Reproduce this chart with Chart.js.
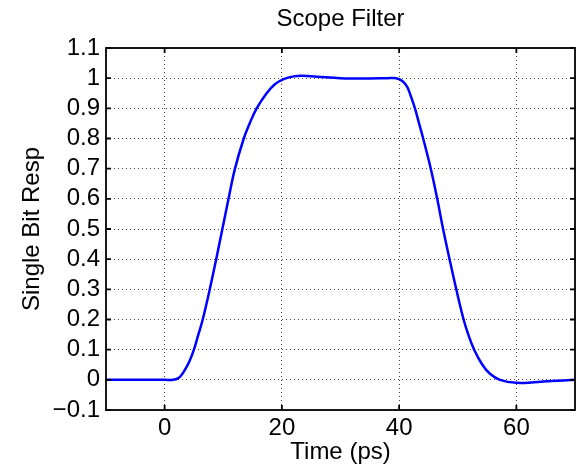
<!DOCTYPE html>
<html>
<head>
  <script src="https://cdn.jsdelivr.net/npm/chart.js@4.4.1/dist/chart.umd.min.js"></script>
  <style>
    html, body { margin: 0; padding: 0; background: #fff; }
    .wrap { width: 585px; height: 467px; }
  </style>
</head>
<body>
  <div class="wrap"><canvas id="scope"></canvas></div>
  <script>
    // values
    const timePs = [-10, 0, 1.5, 2.5, 3.3, 4.2, 5.0, 5.75, 6.5, 7.7, 8.8, 9.85, 10.9, 12.0, 13.5, 14.5, 15.7, 17.4, 18.8, 20.3, 22, 23.5, 26, 30, 35, 38, 39.5, 40.6, 41.4, 42.0, 42.7, 43.4, 44.1, 45.4, 46.5, 47.5, 48.6, 49.75, 51.0, 51.8, 52.8, 54.2, 55.5, 57.2, 60, 63, 66, 70];
    const resp   = [0, 0, 0, 0.008, 0.028, 0.06, 0.1, 0.15, 0.2, 0.3, 0.4, 0.5, 0.6, 0.7, 0.8, 0.85, 0.9, 0.95, 0.98, 0.997, 1.006, 1.008, 1.005, 1.0, 0.999, 1.0, 1.0, 0.99, 0.97, 0.94, 0.9, 0.85, 0.8, 0.7, 0.6, 0.5, 0.4, 0.3, 0.2, 0.15, 0.1, 0.05, 0.02, 0.0, -0.01, -0.008, -0.004, 0];
    const xTicks = [0, 20, 40, 60];
    const yTicks = [-0.1, 0, 0.1, 0.2, 0.3, 0.4, 0.5, 0.6, 0.7, 0.8, 0.9, 1.0, 1.1];

    const FONT = "'Liberation Sans', Arial, Helvetica, sans-serif";

    function fmtY(v) {
      const s = String(Number(v.toFixed(1)));
      return v < 0 ? '\u2212' + s.slice(1) : s;
    }

    // matlab style box with inward ticks on all four sides
    const boxPlugin = {
      id: 'box',
      afterDraw(chart) {
        const { ctx, chartArea: a, scales } = chart;
        ctx.save();
        ctx.strokeStyle = '#000';
        ctx.lineWidth = 1.8;
        ctx.strokeRect(a.left, a.top, a.right - a.left, a.bottom - a.top);
        ctx.beginPath();
        const len = 5;
        xTicks.forEach(v => {
          const x = scales.x.getPixelForValue(v);
          ctx.moveTo(x, a.bottom); ctx.lineTo(x, a.bottom - len);
          ctx.moveTo(x, a.top); ctx.lineTo(x, a.top + len);
        });
        yTicks.forEach(v => {
          const y = scales.y.getPixelForValue(v);
          ctx.moveTo(a.left, y); ctx.lineTo(a.left + len, y);
          ctx.moveTo(a.right, y); ctx.lineTo(a.right - len, y);
        });
        ctx.stroke();
        ctx.restore();
      }
    };

    new Chart(document.getElementById('scope'), {
      type: 'line',
      data: {
        datasets: [{
          data: timePs.map((t, i) => ({ x: t, y: resp[i] })),
          borderColor: '#0000ff',
          borderWidth: 2.5,
          pointRadius: 0,
          tension: 0.4,
          fill: false
        }]
      },
      options: {
        responsive: true,
        maintainAspectRatio: false,
        animation: false,
        layout: { padding: { left: 0, right: 10, top: 0, bottom: 0 } },
        plugins: {
          legend: { display: false },
          tooltip: { enabled: false },
          title: {
            display: true,
            text: 'Scope Filter',
            fullSize: false,
            color: '#000',
            font: { family: FONT, size: 24, weight: 'normal' },
            padding: { top: 5, bottom: 14.2 }
          }
        },
        scales: {
          x: {
            type: 'linear',
            min: -10,
            max: 70,
            afterBuildTicks: s => { s.ticks = xTicks.map(v => ({ value: v })); },
            afterFit: s => { s.height = 57; },
            grid: { color: '#444', lineWidth: 1, drawTicks: false },
            border: { display: false, dash: [1, 3] },
            ticks: { color: '#000', padding: 4, maxRotation: 0, autoSkip: false, font: { family: FONT, size: 24 } },
            title: { display: true, text: 'Time (ps)', color: '#000', font: { family: FONT, size: 24 }, padding: { top: 0, bottom: 0 } }
          },
          y: {
            min: -0.1,
            max: 1.1,
            afterBuildTicks: s => { s.ticks = yTicks.map(v => ({ value: v })); },
            afterFit: s => { s.width = 106; },
            grid: { color: '#444', lineWidth: 1, drawTicks: false },
            border: { display: false, dash: [1, 3] },
            ticks: { color: '#000', padding: 6, autoSkip: false, callback: v => fmtY(v), font: { family: FONT, size: 24 } },
            title: { display: true, text: 'Single Bit Resp', color: '#000', font: { family: FONT, size: 24 }, padding: { top: 18, bottom: 0 } }
          }
        }
      },
      plugins: [boxPlugin]
    });
  </script>
</body>
</html>
